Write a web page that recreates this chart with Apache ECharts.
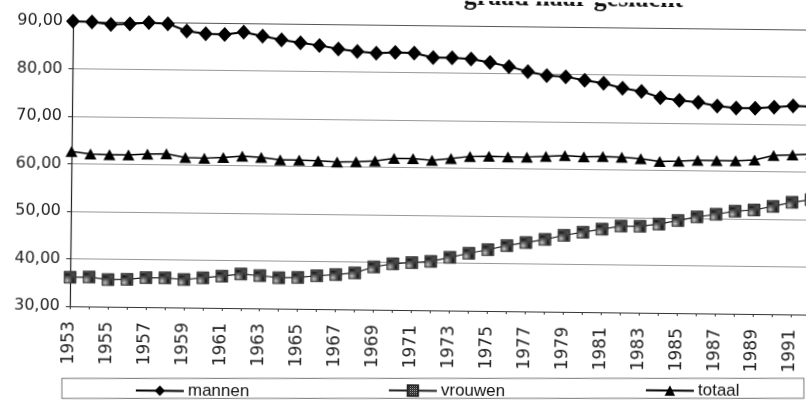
<!DOCTYPE html>
<html>
<head>
<meta charset="utf-8">
<script src="https://cdn.jsdelivr.net/npm/echarts@6/dist/echarts.min.js"></script>
<style>
  html, body { margin: 0; padding: 0; background: #fff; overflow: hidden; width: 806px; height: 404px; }
  /* scan is slightly skewed, so the whole chart is turned a bit */
  #chart { width: 816px; height: 404px; transform: rotate(0.65deg); transform-origin: 403px 202px; }
</style>
</head>
<body>
<div id="chart"></div>
<script>
var years = ["1953","1954","1955","1956","1957","1958","1959","1960","1961","1962",
  "1963","1964","1965","1966","1967","1968","1969","1970","1971","1972",
  "1973","1974","1975","1976","1977","1978","1979","1980","1981","1982",
  "1983","1984","1985","1986","1987","1988","1989","1990","1991","1992"];
var mannen = [90.0, 89.9, 89.4, 89.6, 89.9, 89.7, 88.2, 87.7, 87.6, 88.1,
  87.3, 86.6, 86.0, 85.5, 84.8, 84.3, 84.0, 84.2, 84.1, 83.2,
  83.2, 83.0, 82.3, 81.5, 80.5, 79.7, 79.5, 78.8, 78.2, 77.2,
  76.6, 75.3, 74.8, 74.4, 73.7, 73.3, 73.3, 73.6, 73.9, 73.8];
var vrouwen = [36.1, 36.2, 35.7, 35.8, 36.2, 36.2, 35.9, 36.3, 36.7, 37.2,
  36.9, 36.5, 36.6, 37.0, 37.3, 37.7, 39.0, 39.7, 40.0, 40.3,
  41.2, 42.1, 42.9, 43.8, 44.5, 45.2, 46.1, 46.8, 47.5, 48.2,
  48.2, 48.7, 49.5, 50.3, 50.9, 51.6, 51.9, 52.7, 53.6, 54.2];
var totaal = [62.6, 62.1, 62.0, 62.0, 62.2, 62.3, 61.6, 61.5, 61.7, 62.0,
  61.8, 61.3, 61.3, 61.2, 61.0, 61.1, 61.3, 61.9, 61.9, 61.6,
  62.0, 62.5, 62.6, 62.5, 62.5, 62.7, 62.9, 62.7, 62.8, 62.7,
  62.4, 61.9, 62.0, 62.2, 62.2, 62.2, 62.4, 63.4, 63.6, 63.8];
var seriesNames = ["mannen", "vrouwen", "totaal"];
var yTicks = [30, 40, 50, 60, 70, 80, 90];

// halftone fill for the vrouwen squares
var pat = document.createElement("canvas");
pat.width = 2; pat.height = 2;
var pc = pat.getContext("2d");
pc.fillStyle = "#111"; pc.fillRect(0, 0, 1, 1);
pc.fillStyle = "#111"; pc.fillRect(1, 1, 1, 1);
pc.fillStyle = "#c8c8c8"; pc.fillRect(1, 0, 1, 1);
pc.fillStyle = "#555"; pc.fillRect(0, 1, 1, 1);

var skew = 0.65 * Math.PI / 180;

var chart = echarts.init(document.getElementById("chart"));
var option = {
  backgroundColor: "#fff",
  animation: false,
  grid: { left: 71, top: 25, right: 5, bottom: 94, containLabel: false },
  legend: [
    { data: [seriesNames[0]], left: 137, top: 385 },
    { data: [seriesNames[1]], left: 390, top: 382 },
    { data: [seriesNames[2]], left: 647, top: 379 }
  ].map(function (l) {
    l.orient = "horizontal";
    l.itemWidth = 48;
    l.itemHeight = 13;
    l.padding = 0;
    l.itemGap = 0;
    l.selectedMode = false;
    l.textStyle = { fontFamily: "Liberation Sans", fontSize: 17, color: "#111", padding: [0, 0, 0, -1] };
    return l;
  }),
  graphic: [
    {
      type: "rect",
      x: 435, y: 388,
      rotation: skew,
      shape: { x: -371, y: -10, width: 742, height: 20 },
      style: { fill: "none", stroke: "#777", lineWidth: 1 },
      silent: true
    },
    {
      type: "text",
      x: 681, y: -3,
      style: {
        text: "graad naar geslacht",
        align: "right",
        verticalAlign: "middle",
        font: "bold 26px 'Liberation Serif'",
        fill: "#111"
      },
      silent: true
    }
  ],
  xAxis: {
    type: "category",
    data: years,
    boundaryGap: false,
    axisLine: { lineStyle: { color: "#333", width: 1 } },
    axisTick: { show: true, interval: 0, length: 3, lineStyle: { color: "#333" } },
    axisLabel: {
      interval: 1,
      rotate: 90,
      margin: 15,
      fontFamily: "DejaVu Sans",
      fontSize: 17,
      color: "#222"
    },
    splitLine: { show: false }
  },
  yAxis: {
    type: "value",
    min: yTicks[0],
    max: yTicks[yTicks.length - 1],
    interval: 10,
    axisLine: { show: true, lineStyle: { color: "#222", width: 1.2 } },
    axisTick: { show: true, length: 4, lineStyle: { color: "#333" } },
    axisLabel: {
      margin: 10,
      fontFamily: "DejaVu Sans",
      fontSize: 16,
      color: "#222",
      formatter: function (v) { return v.toFixed(2).replace(".", ","); }
    },
    splitLine: {
      show: true,
      lineStyle: { color: ["#333", "#999", "#999", "#999", "#999", "#999", "#555"], width: 1 }
    }
  },
  series: [
    {
      name: seriesNames[0],
      type: "line",
      data: mannen,
      symbol: "diamond",
      symbolSize: [14, 15],
      showAllSymbol: true,
      lineStyle: { color: "#000", width: 2 },
      itemStyle: { color: "#000" },
      z: 4
    },
    {
      name: seriesNames[1],
      type: "line",
      data: vrouwen,
      symbol: "rect",
      symbolSize: 12,
      showAllSymbol: true,
      lineStyle: { color: "#222", width: 1.2 },
      itemStyle: { color: { image: pat, repeat: "repeat" }, borderColor: "#222", borderWidth: 0.6 },
      z: 3
    },
    {
      name: seriesNames[2],
      type: "line",
      data: totaal,
      symbol: "triangle",
      symbolSize: [12, 11],
      showAllSymbol: true,
      lineStyle: { color: "#000", width: 1.5 },
      itemStyle: { color: "#000" },
      z: 3
    }
  ]
};
chart.setOption(option);
</script>
</body>
</html>
